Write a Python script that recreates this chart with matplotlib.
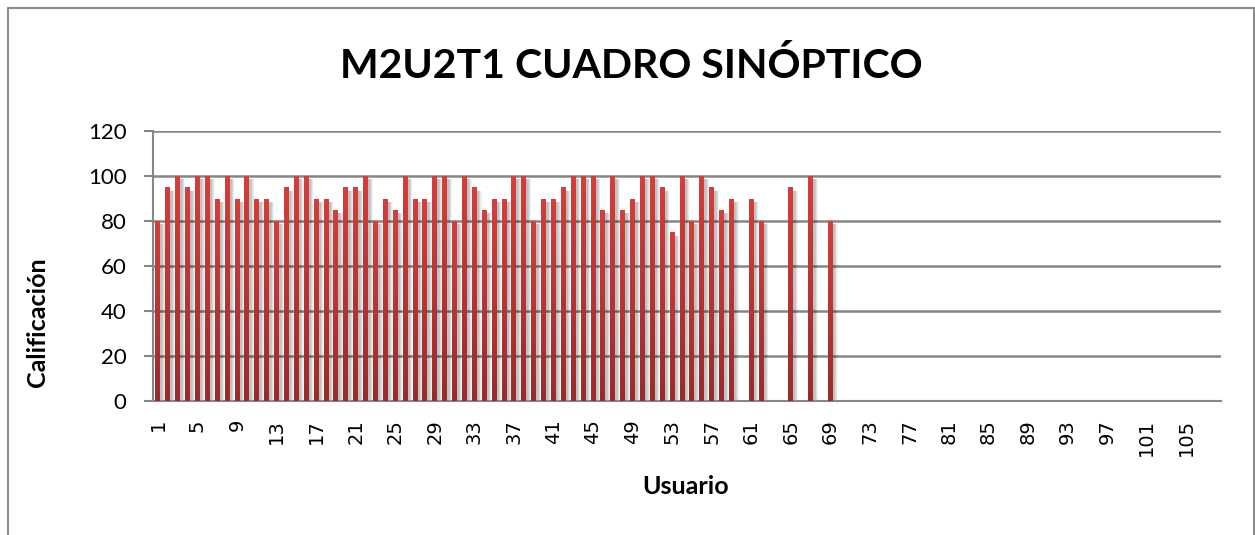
import numpy as np
import matplotlib.pyplot as plt
from matplotlib.patches import Rectangle
from matplotlib.colors import LinearSegmentedColormap

plt.rcParams['font.family'] = ['Lato', 'DejaVu Sans']

# usuarios 1..108, calificacion (0 = sin entrega)
usuarios = list(range(1, 109))
calificacion = [80, 95, 100, 95, 100, 100, 90, 100, 90, 100,
                90, 90, 80, 95, 100, 100, 90, 90, 85, 95,
                95, 100, 80, 90, 85, 100, 90, 90, 100, 100,
                80, 100, 95, 85, 90, 90, 100, 100, 80, 90,
                90, 95, 100, 100, 100, 85, 100, 85, 90, 100,
                100, 95, 75, 100, 80, 100, 95, 85, 90, 0,
                90, 80, 0, 0, 95, 0, 100, 0, 80]
calificacion = calificacion + [0] * (len(usuarios) - len(calificacion))
tick_labels = [str(u) for u in usuarios[::4]]

x = np.array(usuarios)
vals = np.array(calificacion, dtype=float)
has = vals > 0

fig = plt.figure(figsize=(12.55, 5.35), dpi=100)
ax = fig.add_axes([153 / 1255, 1 - 401 / 535, (1221 - 153) / 1255, 270 / 535])

# soft shadow behind the bars
for k in range(6):
    ax.bar(x[has] + 0.25, vals[has] - 1.5, width=0.4 + 0.11 * k,
           color='#000000', alpha=0.045, linewidth=0, zorder=2)

bars = ax.bar(x[has], vals[has], width=0.5, color='none', linewidth=0, zorder=3)
grad = np.linspace(0, 1, 64).reshape(-1, 1)
cmap = LinearSegmentedColormap.from_list('rojo', ['#9a2b2b', '#d43e3b'])
for b in bars:
    im = ax.imshow(grad, cmap=cmap, origin='lower', aspect='auto',
                   extent=(b.get_x(), b.get_x() + b.get_width(), 0, b.get_height()),
                   zorder=3)
    im.set_clip_path(b)

ax.set_xlim(0.5, 108.5)
ax.set_ylim(0, 120)
ax.set_yticks(range(0, 121, 20))
ax.set_xticks(usuarios[::4])
ax.set_xticklabels(tick_labels, rotation=90, fontsize=14, family='DejaVu Sans')
ax.tick_params(axis='x', length=0, pad=13)
ax.tick_params(axis='y', length=6.5, width=1.5, color='#868686', pad=12.5, labelsize=16)

ax.grid(axis='y', color='#868686', linewidth=1.8, zorder=1)
ax.set_axisbelow(True)
for s in ['top', 'right']:
    ax.spines[s].set_visible(False)
ax.spines['left'].set_color('#868686')
ax.spines['left'].set_linewidth(1.5)
ax.spines['bottom'].set_color('#868686')
ax.spines['bottom'].set_linewidth(1.5)

fig.text(631 / 1255, 1 - 66 / 535, 'M2U2T1 CUADRO SINÓPTICO', ha='center', va='center',
         fontsize=29.5, fontweight='bold')
fig.text(38 / 1255, 1 - 322 / 535, 'Calificación', rotation=90, ha='center', va='center',
         fontsize=18, fontweight='bold')
fig.text(686 / 1255, 1 - 487 / 535, 'Usuario', ha='center', va='center',
         fontsize=18, fontweight='bold')

# chart frame
fig.add_artist(Rectangle((7.5 / 1255, -0.1), 1246 / 1255, (535 - 8) / 535 + 0.1,
                         transform=fig.transFigure, fill=False,
                         edgecolor='#8c8c8c', linewidth=1.5))

fig.savefig('out.png', dpi=100)
